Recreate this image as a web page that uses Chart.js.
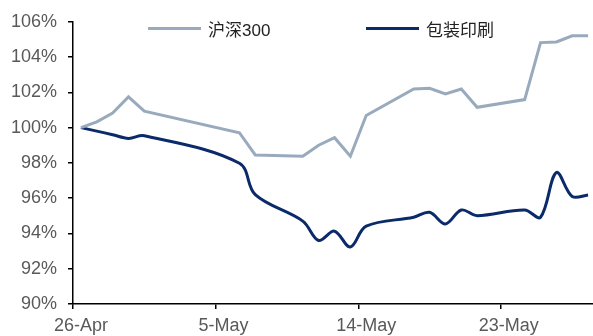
<!DOCTYPE html>
<html>
<head>
<meta charset="utf-8">
<script src="https://cdn.jsdelivr.net/npm/chart.js@4/dist/chart.umd.min.js"></script>
<style>
  html, body { margin: 0; padding: 0; background: #fff; overflow: hidden; }
  #wrap { position: relative; width: 596px; height: 336px; }
  .legend-item { position: absolute; top: 18px; height: 20px; display: flex; align-items: center;
    font-family: "Liberation Sans", "Noto Sans CJK SC", sans-serif; font-size: 17px; color: #222; }
  .legend-item .swatch { width: 53px; height: 3px; margin-right: 7px; }
</style>
</head>
<body>
<div id="wrap">
  <canvas id="chart" width="596" height="336"></canvas>
</div>
<script>
// daily calendar slots, 26-Apr .. 28-May (non-trading days are null)
const categories = [
  '26-Apr', '27-Apr', '28-Apr', '29-Apr', '30-Apr',
  '1-May', '2-May', '3-May', '4-May', '5-May', '6-May', '7-May', '8-May', '9-May',
  '10-May', '11-May', '12-May', '13-May', '14-May', '15-May', '16-May',
  '17-May', '18-May', '19-May', '20-May', '21-May', '22-May', '23-May',
  '24-May', '25-May', '26-May', '27-May', '28-May'
];
const tickLabels = ['26-Apr', '5-May', '14-May', '23-May'];

const seriesNames = ['沪深300', '包装印刷'];
const seriesColors = ['#99aabd', '#0b2a6a'];

const hs300 = [
  100.00, 100.33, 100.83, 101.74, 100.93,
  null, null, null, null, null, 99.71, 98.45, null, null,
  98.38, 99.00, 99.43, 98.38, 100.69, null, null,
  102.19, 102.23, 101.91, 102.19, 101.15, null, null,
  101.59, 104.82, 104.86, 105.21, 105.21
];
const packaging = [
  100.00, 99.80, 99.60, 99.39, 99.54,
  null, null, null, null, null, 97.98, 96.20, null, null,
  94.70, 93.60, 94.13, 93.23, 94.41, null, null,
  94.92, 95.20, 94.54, 95.33, 95.01, null, null,
  95.33, 94.92, 97.45, 96.10, 96.18
];

const axisFont = { family: 'Liberation Sans, Arial, sans-serif', size: 18 };
const axisText = '#595959';

// legend sits over the top of the plot
const legendPos = [148, 366];
const wrap = document.getElementById('wrap');
seriesNames.forEach((name, i) => {
  const item = document.createElement('div');
  item.className = 'legend-item';
  item.style.left = legendPos[i] + 'px';
  item.innerHTML = '<span class="swatch" style="background:' + seriesColors[i] + '"></span><span>' + name + '</span>';
  wrap.appendChild(item);
});

new Chart(document.getElementById('chart'), {
  type: 'line',
  data: {
    labels: categories,
    datasets: [
      { label: seriesNames[0], data: hs300, borderColor: seriesColors[0], borderWidth: 3,
        tension: 0, spanGaps: true, pointRadius: 0 },
      { label: seriesNames[1], data: packaging, borderColor: seriesColors[1], borderWidth: 3,
        tension: 0.35, spanGaps: true, pointRadius: 0 }
    ]
  },
  options: {
    responsive: false,
    animation: false,
    layout: { padding: { top: 20, right: 0, bottom: 0, left: 0 } },
    plugins: { legend: { display: false }, tooltip: { enabled: false } },
    scales: {
      x: {
        offset: true,
        afterFit: s => { s.height = 32; },
        border: { display: true, color: '#000', width: 1.5 },
        grid: {
          offset: true,
          drawOnChartArea: false,
          tickLength: 5,
          lineWidth: 1.5,
          color: ctx => (ctx.tick && tickLabels.includes(ctx.tick.label)) ? '#000' : 'rgba(0,0,0,0)'
        },
        ticks: {
          autoSkip: false, maxRotation: 0, minRotation: 0, padding: 6,
          color: axisText, font: axisFont,
          callback: function (v, i) { const l = categories[i]; return tickLabels.includes(l) ? l : ''; }
        }
      },
      y: {
        min: 90, max: 106,
        afterFit: s => { s.width = 73; },
        border: { display: true, color: '#000', width: 1.5 },
        grid: { drawOnChartArea: false, tickLength: 5, lineWidth: 1.5, color: '#000' },
        ticks: { stepSize: 2, padding: 11, color: axisText, font: axisFont, callback: v => v + '%' }
      }
    }
  }
});
</script>
</body>
</html>
